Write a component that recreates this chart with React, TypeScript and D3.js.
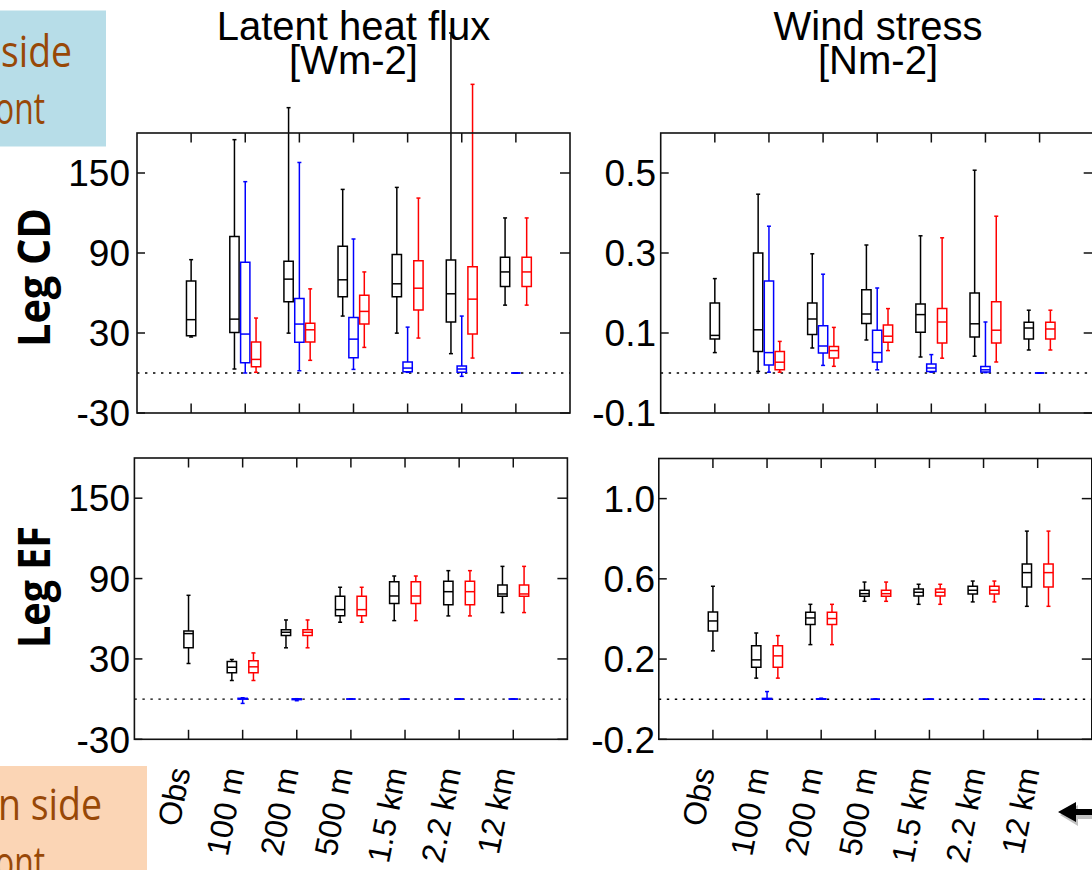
import React from 'react';
import * as d3 from 'd3';

// ---------- data ----------
const categories = ['Obs', '100 m', '200 m', '500 m', '1.5 km', '2.2 km', '12 km'];

// each box: [lowWhisker, q1, median, q3, highWhisker]; null = no box
type Box = number[] | null;
const z: Box = [0, 0, 0, 0, 0];

const lhfCdBlack: Box[] = [
  [27, 28, 40, 69, 85], [3, 30.4, 40.4, 102.3, 175], [29.9, 53.4, 70.4, 83.8, 199],
  [42.7, 57.1, 69.9, 95.1, 137.7], [29.9, 57.1, 66.9, 88.8, 139.2], [14.5, 38.2, 59.4, 84.8, 255],
  [50.9, 64.9, 75.8, 86.8, 116.3],
];
const lhfCdBlue: Box[] = [
  null, [0, 7.7, 29.2, 83.1, 143.5], [1.7, 23, 36.7, 55.9, 157.9], [2.7, 11.5, 25.4, 41.7, 100.5],
  [0.5, 1, 3.7, 8.2, 34.4], [-2.5, 0.5, 3, 5.2, 42.7], z,
];
const lhfCdRed: Box[] = [
  null, [0.5, 4.7, 10.2, 23.2, 41.2], [9.5, 23.2, 32.4, 37.4, 63.1], [19.2, 36.7, 46.2, 58.4, 75.8],
  [26.2, 47.2, 63.6, 84.1, 131.2], [11.2, 29.2, 55.4, 79.6, 216.5], [50.9, 64.9, 75.8, 86.8, 116.3],
];

const wsCdBlack: Box[] = [
  [0.051, 0.085, 0.094, 0.175, 0.236], [0.004, 0.054, 0.108, 0.3, 0.447], [0.0625, 0.096, 0.135, 0.175, 0.298],
  [0.0825, 0.124, 0.1475, 0.208, 0.32], [0.04, 0.1017, 0.146, 0.1725, 0.343], [0.042, 0.09, 0.123, 0.2, 0.507],
  [0.0575, 0.085, 0.1125, 0.127, 0.157],
];
const wsCdBlue: Box[] = [
  null, [0.002, 0.02, 0.051, 0.23, 0.367], [0.019, 0.05, 0.0675, 0.118, 0.247], [0.008, 0.0275, 0.051, 0.107, 0.2125],
  [0.002, 0.004, 0.0125, 0.0225, 0.046], [0.001, 0.0025, 0.008, 0.016, 0.1275], z,
];
const wsCdRed: Box[] = [
  null, [0.002, 0.008, 0.027, 0.054, 0.079], [0.0167, 0.0375, 0.056, 0.066, 0.114], [0.056, 0.077, 0.092, 0.12, 0.161],
  [0.037, 0.075, 0.1275, 0.161, 0.338], [0.0275, 0.075, 0.107, 0.178, 0.392], [0.0575, 0.085, 0.11, 0.127, 0.157],
];

const lhfEfBlack: Box[] = [
  [26.6, 38.3, 48.9, 50.9, 77.5], [13.9, 19.6, 23.8, 28.1, 29.6], [38.3, 47.4, 49.9, 51.7, 59.1],
  [57.4, 62.3, 66.8, 76.8, 83.5], [58.6, 71.3, 77.0, 87.7, 91.9], [62.1, 70.5, 80.2, 87.9, 95.9],
  [64.6, 76.8, 78.5, 85.2, 99.1],
];
const lhfEfBlue: Box[] = [null, [-3.2, 0, 0.3, 0.6, 1], [-1.2, -0.4, 0, 0.2, 0.3], z, z, z, z];
const lhfEfRed: Box[] = [
  null, [13.9, 19.6, 24.1, 28.6, 34.5], [38.3, 47.4, 49.9, 51.7, 59.1], [57.4, 62.3, 66.8, 76.8, 83.5],
  [58.6, 71.3, 77.0, 87.7, 91.9], [62.1, 70.5, 80.2, 87.9, 95.9], [64.6, 76.8, 78.5, 85.2, 99.1],
];

const wsEfBlack: Box[] = [
  [0.241, 0.34, 0.39, 0.435, 0.563], [0.105, 0.159, 0.196, 0.266, 0.33], [0.272, 0.372, 0.405, 0.433, 0.473],
  [0.488, 0.513, 0.526, 0.543, 0.584], [0.473, 0.515, 0.533, 0.549, 0.573], [0.485, 0.525, 0.543, 0.563, 0.589],
  [0.463, 0.559, 0.631, 0.674, 0.838],
];
const wsEfBlue: Box[] = [null, [0, 0, 0, 0.004, 0.038], [0, 0, 0, 0.002, 0.005], z, z, z, z];
const wsEfRed: Box[] = [
  null, [0.105, 0.159, 0.216, 0.266, 0.317], [0.272, 0.372, 0.402, 0.433, 0.473], [0.488, 0.513, 0.526, 0.543, 0.584],
  [0.473, 0.515, 0.533, 0.549, 0.573], [0.485, 0.525, 0.543, 0.563, 0.589], [0.463, 0.559, 0.631, 0.674, 0.838],
];

const lhfTicks = [-30, 30, 90, 150];
const lhfTickLabels = ['-30', '30', '90', '150'];
const wsCdTicks = [-0.1, 0.1, 0.3, 0.5];
const wsCdTickLabels = ['-0.1', '0.1', '0.3', '0.5'];
const wsEfTicks = [-0.2, 0.2, 0.6, 1.0];
const wsEfTickLabels = ['-0.2', '0.2', '0.6', '1.0'];

const titles = [['Latent heat flux', '[Wm-2]'], ['Wind stress', '[Nm-2]']];
const rowLabels = ['Leg CD', 'Leg EF'];

// ---------- drawing ----------
const FONT = '"Liberation Sans", Arial, Helvetica, sans-serif';
const BOX_W = 9.3;
const CAP_W = 4;
const OFFSET = 10.8;

function BoxGlyph({ b, cx, y, color }: { b: number[]; cx: number; y: d3.ScaleLinear<number, number>; color: string }) {
  const [lo, q1, med, q3, hi] = b;
  const x0 = cx - BOX_W / 2, x1 = cx + BOX_W / 2;
  const path = `M${x0},${y(q3)}H${x1}V${y(q1)}H${x0}Z`;
  return (
    <g stroke={color} strokeWidth={1.5} fill="none">
      <line x1={cx} x2={cx} y1={y(q3)} y2={y(hi)} />
      <line x1={cx} x2={cx} y1={y(q1)} y2={y(lo)} />
      <line x1={cx - CAP_W / 2} x2={cx + CAP_W / 2} y1={y(hi)} y2={y(hi)} />
      <line x1={cx - CAP_W / 2} x2={cx + CAP_W / 2} y1={y(lo)} y2={y(lo)} />
      <path d={path} />
      <line x1={x0} x2={x1} y1={y(med)} y2={y(med)} />
    </g>
  );
}

type PanelProps = {
  x0: number; yTop: number; yBot: number; domain: [number, number];
  ticks: number[]; tickLabels: string[]; labelEnd: number;
  black: Box[]; blue: Box[]; red: Box[]; showX: boolean;
};

function Panel(p: PanelProps) {
  const W = 433;
  const x = d3.scaleLinear().domain([0, 8]).range([p.x0, p.x0 + W]);
  const y = d3.scaleLinear().domain(p.domain).range([p.yBot, p.yTop]);
  const xr = p.x0 + W;
  const tl = 9.5;
  return (
    <g>
      {/* zero dotted line */}
      <line x1={p.x0} x2={xr} y1={y(0)} y2={y(0)} stroke="#000" strokeWidth={1.4} strokeDasharray="2.4,5.6" />
      {/* boxes */}
      {categories.map((c, i) => {
        const cx = x(i + 1);
        const bk = p.black[i], bl = p.blue[i], rd = p.red[i];
        const twin = bl !== null || rd !== null;
        return (
          <g key={c}>
            {bk && <BoxGlyph b={bk} cx={twin ? cx - OFFSET : cx} y={y} color="#000" />}
            {bl && <BoxGlyph b={bl} cx={cx} y={y} color="#0000ff" />}
            {rd && <BoxGlyph b={rd} cx={cx + OFFSET} y={y} color="#ff0000" />}
          </g>
        );
      })}
      {/* frame */}
      <rect x={p.x0} y={p.yTop} width={W} height={p.yBot - p.yTop} fill="none" stroke="#111" strokeWidth={1.6} />
      {/* x ticks */}
      {categories.map((c, i) => (
        <g key={'xt' + c} stroke="#111" strokeWidth={1.5}>
          <line x1={x(i + 1)} x2={x(i + 1)} y1={p.yTop} y2={p.yTop + tl} />
          <line x1={x(i + 1)} x2={x(i + 1)} y1={p.yBot} y2={p.yBot - tl} />
        </g>
      ))}
      {/* y ticks */}
      {p.ticks.map((t, i) => (
        <g key={'yt' + i}>
          <line x1={p.x0} x2={p.x0 + 8} y1={y(t)} y2={y(t)} stroke="#111" strokeWidth={1.5} />
          <line x1={xr} x2={xr - 10} y1={y(t)} y2={y(t)} stroke="#111" strokeWidth={1.5} />
          <text x={p.labelEnd} y={y(t) + 13.3} textAnchor="end" fontFamily={FONT} fontSize={37} fill="#000">
            {p.tickLabels[i]}
          </text>
        </g>
      ))}
      {/* x labels */}
      {p.showX && categories.map((c, i) => (
        <text key={'xl' + c} transform={`translate(${x(i + 1) + 2},770) rotate(-79)`} textAnchor="end"
          fontFamily={FONT} fontSize={32} fill="#000">{c}</text>
      ))}
    </g>
  );
}

export default function App() {
  return (
    <svg width={1092} height={870} style={{ position: 'absolute', left: 0, top: 0, background: '#fff' }}
      xmlns="http://www.w3.org/2000/svg">
      <rect x={0} y={0} width={1092} height={870} fill="#fff" />

      {/* titles */}
      {titles.map((t, i) => (
        <g key={t[0]}>
          <text x={i === 0 ? 353.5 : 878} y={40} textAnchor="middle" fontFamily={FONT} fontSize={40}>{t[0]}</text>
          <text x={i === 0 ? 353.5 : 878} y={74} textAnchor="middle" fontFamily={FONT} fontSize={40}>{t[1]}</text>
        </g>
      ))}

      <Panel x0={137} yTop={133} yBot={413} domain={[-30, 180]} ticks={lhfTicks} tickLabels={lhfTickLabels}
        labelEnd={130} black={lhfCdBlack} blue={lhfCdBlue} red={lhfCdRed} showX={false} />
      <Panel x0={660.7} yTop={133} yBot={413} domain={[-0.1, 0.6]} ticks={wsCdTicks} tickLabels={wsCdTickLabels}
        labelEnd={656} black={wsCdBlack} blue={wsCdBlue} red={wsCdRed} showX={false} />
      <Panel x0={134.4} yTop={458} yBot={739.3} domain={[-30, 180]} ticks={lhfTicks} tickLabels={lhfTickLabels}
        labelEnd={130} black={lhfEfBlack} blue={lhfEfBlue} red={lhfEfRed} showX={true} />
      <Panel x0={658.8} yTop={458.5} yBot={739.3} domain={[-0.2, 1.2]} ticks={wsEfTicks} tickLabels={wsEfTickLabels}
        labelEnd={655} black={wsEfBlack} blue={wsEfBlue} red={wsEfRed} showX={true} />

      {/* row labels */}
      <text transform="translate(49.5,277.5) rotate(-90)" textAnchor="middle" fontFamily='"Open Sans", sans-serif'
        fontWeight="bold" fontSize={44} textLength={139} lengthAdjust="spacingAndGlyphs">{rowLabels[0]}</text>
      <text transform="translate(49.5,587) rotate(-90)" textAnchor="middle" fontFamily='"Open Sans", sans-serif'
        fontWeight="bold" fontSize={44} textLength={122} lengthAdjust="spacingAndGlyphs">{rowLabels[1]}</text>

      {/* slide overlays */}
      <rect x={0} y={10.5} width={106} height={136} fill="#b7dde8" />
      <text x={1} y={67} fontFamily='"Open Sans", sans-serif' fontSize={43} fill="#984807"
        textLength={71} lengthAdjust="spacingAndGlyphs">side</text>
      <text x={-5} y={124} fontFamily='"Open Sans", sans-serif' fontSize={43} fill="#984807"
        textLength={50} lengthAdjust="spacingAndGlyphs">ont</text>

      <rect x={0} y={766} width={147} height={110} fill="#fbd5b5" />
      <text x={-2} y={820} fontFamily='"Open Sans", sans-serif' fontSize={43} fill="#984807"
        textLength={104} lengthAdjust="spacingAndGlyphs">n side</text>
      <text x={-5} y={878} fontFamily='"Open Sans", sans-serif' fontSize={43} fill="#984807"
        textLength={50} lengthAdjust="spacingAndGlyphs">ont</text>

      {/* arrow */}
      <polygon points="1060,815 1078,805 1078,812 1094,812 1094,819 1078,819 1078,826" fill="#999" opacity={0.6} />
      <polygon points="1058,812 1076,802 1076,809 1094,809 1094,815 1076,815 1076,822" fill="#000" />
    </svg>
  );
}
